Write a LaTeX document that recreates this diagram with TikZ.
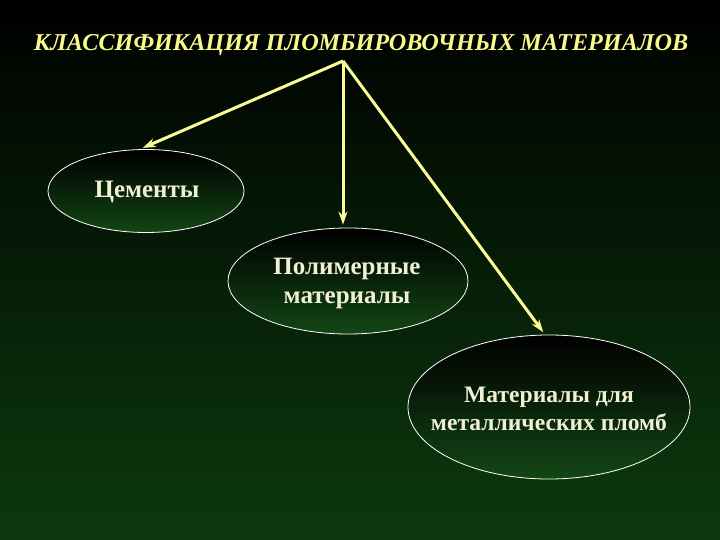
\documentclass[tikz,border=0pt]{standalone}
\usepackage{fontspec}
\setmainfont{Liberation Serif}
\usetikzlibrary{arrows.meta,shapes.geometric}
\definecolor{bgbot}{RGB}{12,58,14}
\definecolor{ellbot}{RGB}{18,70,20}
\definecolor{arrowc}{RGB}{250,250,150}
\definecolor{titlec}{RGB}{250,250,140}
\definecolor{textc}{RGB}{240,240,210}
\tikzset{
  oval/.style={ellipse, draw=white, line width=0.8pt, top color=black, bottom color=ellbot, inner sep=0pt},
  label/.style={text=textc, font=\fontsize{25}{29}\selectfont\bfseries, align=center, inner sep=0pt},
  link/.style={draw=arrowc, line width=3pt, shorten >=3pt, -{Stealth[length=13pt,width=9pt]}}
}
\begin{document}
\begin{tikzpicture}[x=1pt,y=-1pt]
\shade[top color=black, bottom color=bgbot] (0,0) rectangle (720,540);
\useasboundingbox (0,0) rectangle (720,540);
\node[text=titlec, font=\fontsize{24.2}{28}\selectfont\bfseries\itshape] (title) at (361,45) {КЛАССИФИКАЦИЯ ПЛОМБИРОВОЧНЫХ МАТЕРИАЛОВ};
\coordinate (root) at (343,61);
\node[oval, minimum width=196pt, minimum height=83pt] (c) at (146,191) {};
\node[oval, minimum width=240pt, minimum height=106pt] (p) at (348,281) {};
\node[oval, minimum width=282pt, minimum height=144pt] (m) at (549,407) {};
\node[label] (ct) at (147,192) {Цементы};
\node[label] (pt) at (347,283) {Полимерные\\материалы};
\node[label, font=\fontsize{23.6}{28}\selectfont\bfseries] (mt) at (549,409) {Материалы для\\металлических пломб};
\draw[link] (root) -- ([xshift=-6pt]c.north);
\draw[link] (root) -- (root |- p.north);
\draw[link] (root) -- ([xshift=-4pt]m.north);
\end{tikzpicture}
\end{document}
